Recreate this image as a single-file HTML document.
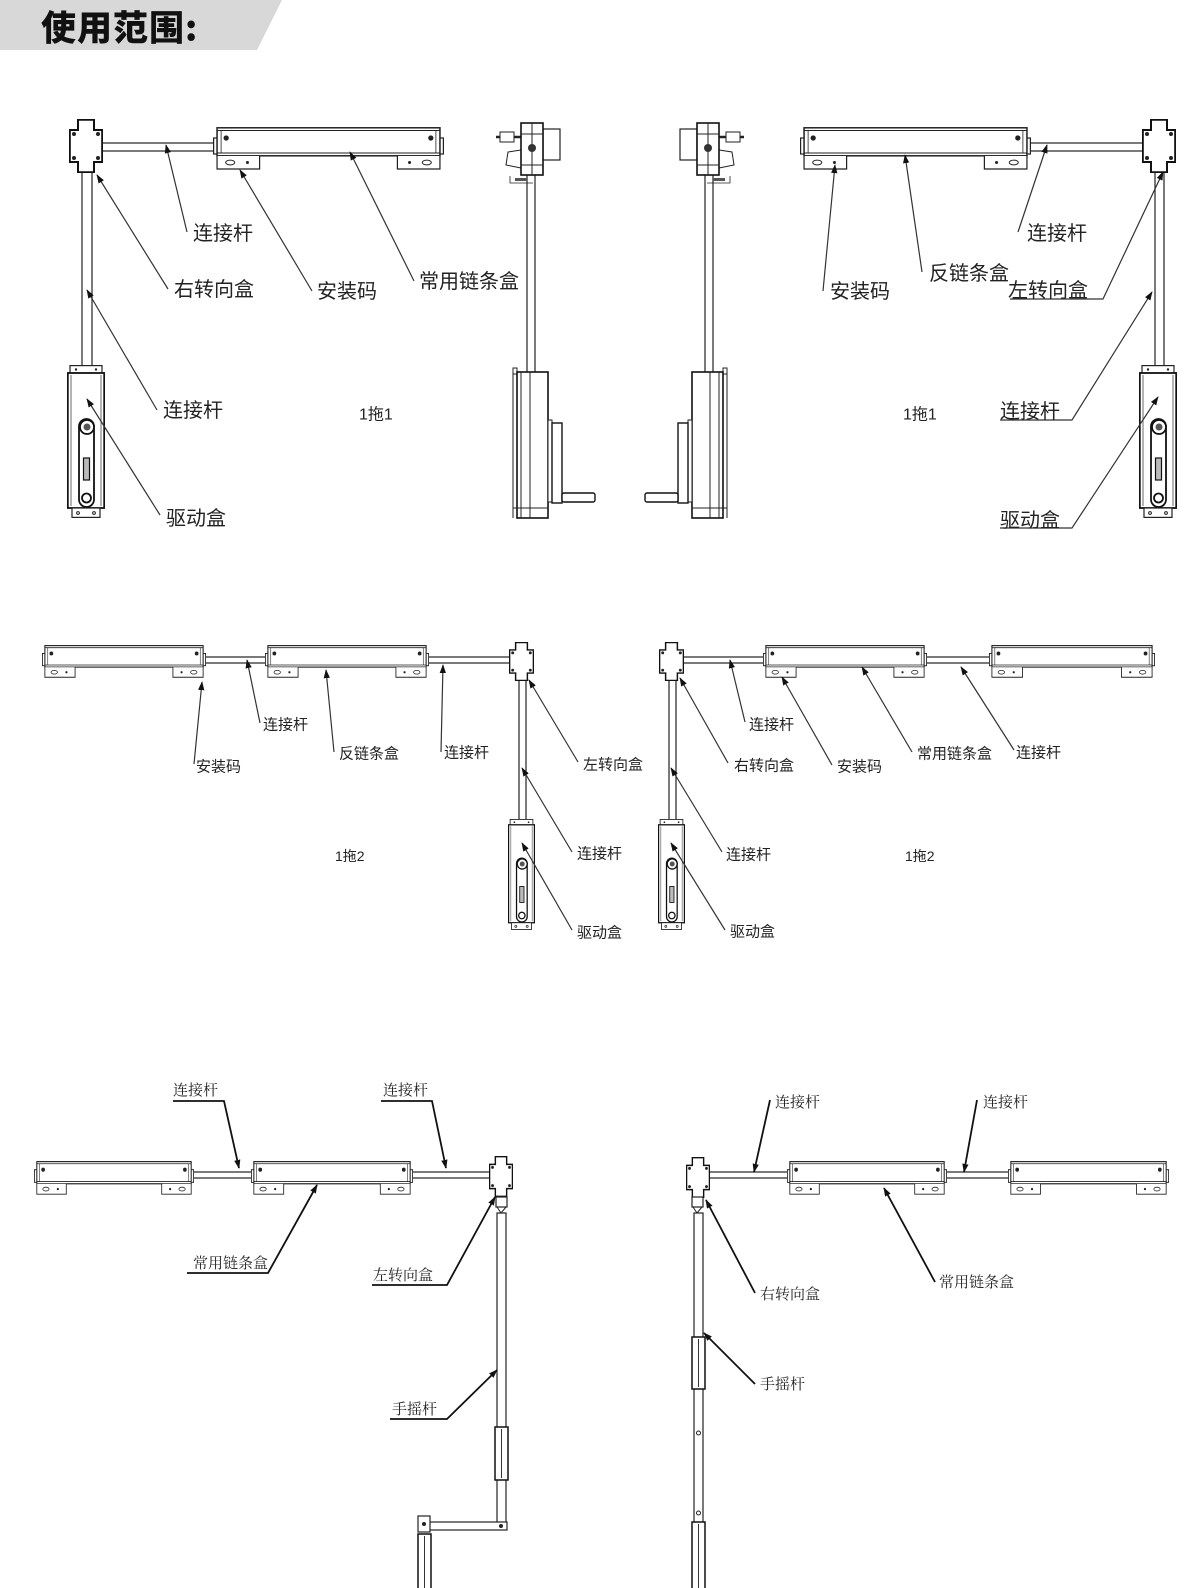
<!DOCTYPE html>
<html><head><meta charset="utf-8"><style>
html,body{margin:0;padding:0;background:#fff;}
svg{display:block;}
.t{font-family:"Liberation Sans","Noto Sans CJK SC",sans-serif;fill:#222;dominant-baseline:central;}
.s{font-family:"Liberation Serif","Noto Serif CJK SC",serif;fill:#222;dominant-baseline:central;}
.ld{stroke:#333;stroke-width:1.2;fill:none;}
.lb{stroke:#111;stroke-width:1.8;fill:none;}
.p{stroke:#222;stroke-width:1.2;fill:#fff;}
</style></head><body>
<svg width="1200" height="1588" viewBox="0 0 1200 1588" xmlns="http://www.w3.org/2000/svg">
<defs>
<marker id="ar" viewBox="0 0 10 10" refX="9" refY="5" markerWidth="9" markerHeight="9" orient="auto-start-reverse" markerUnits="userSpaceOnUse"><path d="M0,1.5 L10,5 L0,8.5 Z" fill="#111"/></marker>
<symbol id="cb" viewBox="0 0 228 43" preserveAspectRatio="none">
 <rect x="0.6" y="11" width="4" height="16" fill="#fff" stroke="#222" stroke-width="1.2"/>
 <rect x="223.4" y="11" width="4" height="16" fill="#fff" stroke="#222" stroke-width="1.2"/>
 <rect x="4" y="0.8" width="220" height="28" fill="#fff" stroke="#222" stroke-width="1.5"/>
 <line x1="4" y1="3.5" x2="224" y2="3.5" stroke="#222" stroke-width="1"/>
 <line x1="4" y1="26" x2="224" y2="26" stroke="#222" stroke-width="1"/>
 <line x1="8" y1="3.5" x2="8" y2="26" stroke="#222" stroke-width="0.8"/>
 <line x1="220" y1="3.5" x2="220" y2="26" stroke="#222" stroke-width="0.8"/>
 <circle cx="13" cy="11" r="2.6" fill="#222"/><circle cx="215" cy="11" r="2.6" fill="#222"/>
 <path d="M4,29 V42 H46 V29" fill="#fff" stroke="#222" stroke-width="1.2"/>
 <path d="M182,29 V42 H224 V29" fill="#fff" stroke="#222" stroke-width="1.2"/>
 <ellipse cx="17" cy="35.5" rx="4.5" ry="2.4" fill="none" stroke="#222" stroke-width="1"/>
 <circle cx="34" cy="35.5" r="1.5" fill="#222"/>
 <ellipse cx="211" cy="35.5" rx="4.5" ry="2.4" fill="none" stroke="#222" stroke-width="1"/>
 <circle cx="194" cy="35.5" r="1.5" fill="#222"/>
</symbol>
<symbol id="cr" viewBox="0 0 34 54" preserveAspectRatio="none">
 <path d="M9,0.8 H25 V11 H33.2 V43 H25 V53.2 H9 V43 H0.8 V11 H9 Z" fill="#fff" stroke="#111" stroke-width="2"/>
 <circle cx="5" cy="15" r="2" fill="#222"/><circle cx="29" cy="15" r="2" fill="#222"/>
 <circle cx="5" cy="39" r="2" fill="#222"/><circle cx="29" cy="39" r="2" fill="#222"/>
</symbol>
<symbol id="db" viewBox="0 0 38 153" preserveAspectRatio="none">
 <rect x="3" y="0.6" width="32" height="8" fill="#fff" stroke="#222" stroke-width="1.2"/>
 <circle cx="9" cy="4.5" r="1.2" fill="#222"/><circle cx="29" cy="4.5" r="1.2" fill="#222"/>
 <rect x="0.8" y="8" width="36.4" height="135" fill="#fff" stroke="#111" stroke-width="1.8"/>
 <line x1="4" y1="10" x2="4" y2="141" stroke="#444" stroke-width="0.8"/>
 <line x1="34" y1="10" x2="34" y2="141" stroke="#444" stroke-width="0.8"/>
 <rect x="5" y="143" width="28" height="9.4" fill="#fff" stroke="#222" stroke-width="1.2"/>
 <circle cx="11" cy="148" r="1.4" fill="none" stroke="#222"/><circle cx="27" cy="148" r="1.4" fill="none" stroke="#222"/>
 <rect x="12" y="54" width="15" height="88" rx="7.5" fill="#fff" stroke="#111" stroke-width="1.8"/>
 <circle cx="20" cy="62" r="7" fill="#fff" stroke="#111" stroke-width="1.8"/>
 <circle cx="20" cy="62" r="3.5" fill="#555"/>
 <rect x="16.5" y="93" width="6" height="22" fill="#bbb" stroke="#111" stroke-width="1.2"/>
 <circle cx="19.5" cy="133" r="4.5" fill="#fff" stroke="#111" stroke-width="1.8"/>
</symbol>
<g id="side">
 <rect x="527" y="173" width="8" height="200" class="p"/>
 <line x1="496" y1="137" x2="521" y2="137" stroke="#222" stroke-width="2.5"/>
 <rect x="500" y="132" width="14" height="10" fill="#fff" stroke="#222"/>
 <path d="M521,150 L508,152 L506,165 L521,168" fill="#fff" stroke="#222"/>
 <rect x="543" y="129" width="17" height="31" fill="#fff" stroke="#222" stroke-width="1.2"/>
 <rect x="521" y="123" width="22" height="52" fill="#fff" stroke="#111" stroke-width="1.6"/>
 <line x1="521" y1="134" x2="543" y2="134" stroke="#222"/><line x1="521" y1="165" x2="543" y2="165" stroke="#222"/>
 <line x1="532" y1="123" x2="532" y2="175" stroke="#222"/>
 <circle cx="532" cy="148" r="4" fill="#333"/>
 <path d="M510,176 V183 H533" fill="none" stroke="#222" stroke-width="0.8"/>
 <rect x="515" y="178" width="12" height="3" fill="#555"/>
 <rect x="513" y="368" width="4" height="6" fill="#fff" stroke="#222"/>
 <rect x="517" y="372" width="31" height="146" fill="#fff" stroke="#111" stroke-width="1.6"/>
 <line x1="521" y1="372" x2="521" y2="518" stroke="#222"/>
 <line x1="530" y1="372" x2="530" y2="518" stroke="#222"/>
 <line x1="513" y1="372" x2="513" y2="518" stroke="#222"/>
 <line x1="513" y1="508" x2="548" y2="508" stroke="#222"/>
 <rect x="548" y="420" width="4" height="82" fill="#fff" stroke="#222"/>
 <rect x="552" y="423" width="10" height="80" fill="#fff" stroke="#111" stroke-width="1.4"/>
 <rect x="562" y="493" width="33" height="9" rx="2" fill="#fff" stroke="#111" stroke-width="1.4"/>
</g>
</defs>

<!-- header -->
<polygon points="0,0 282,0 257,50 0,50" fill="#d8d8d8"/>
<text x="41" y="26" style="font-family:'Noto Sans CJK SC','WenQuanYi Zen Hei',sans-serif;font-weight:900;font-size:35px;fill:#111;dominant-baseline:central;letter-spacing:1px">使用范围:</text>

<!-- ===== TOP LEFT ===== -->
<rect x="102" y="143" width="114" height="8" class="p"/>
<rect x="82" y="170" width="10" height="198" class="p"/>
<use href="#cb" x="213" y="127" width="231" height="43"/>
<use href="#cr" x="69" y="119" width="34" height="54"/>
<use href="#db" x="67" y="365" width="38" height="153"/>
<g class="ld" marker-end="url(#ar)">
<path d="M187,232 L166,145"/>
<path d="M168,289 L97,175"/>
<path d="M312,291 L240,170"/>
<path d="M414,281 L350,152"/>
<path d="M157,410 L87,290"/>
<path d="M160,515 L87,399"/>
</g>
<g class="t" font-size="20">
<text x="193" y="234">连接杆</text>
<text x="174" y="290">右转向盒</text>
<text x="317" y="292">安装码</text>
<text x="419" y="282">常用链条盒</text>
<text x="163" y="411">连接杆</text>
<text x="166" y="519">驱动盒</text>
</g>
<text class="t" x="359" y="415" font-size="16">1拖1</text>

<!-- side views -->
<use href="#side"/>
<use href="#side" transform="translate(1240,0) scale(-1,1)"/>

<!-- ===== TOP RIGHT ===== -->
<rect x="1026" y="143" width="117" height="8" class="p"/>
<rect x="1155" y="170" width="9" height="198" class="p"/>
<use href="#cb" x="800" y="127" width="231" height="43"/>
<use href="#cr" x="1142" y="119" width="34" height="54"/>
<use href="#db" x="1139" y="365" width="38" height="153"/>
<g class="ld" marker-end="url(#ar)">
<path d="M823,291 L835,165"/>
<path d="M922,272 L905,155"/>
<path d="M1018,232 L1047,145"/>
<path d="M1010,299 H1103 L1163,172"/>
<path d="M1000,420 H1072 L1152,292"/>
<path d="M1000,528 H1072 L1158,397"/>
</g>
<g class="t" font-size="20">
<text x="830" y="292">安装码</text>
<text x="929" y="274">反链条盒</text>
<text x="1027" y="234">连接杆</text>
<text x="1008" y="291">左转向盒</text>
<text x="1000" y="412">连接杆</text>
<text x="1000" y="521">驱动盒</text>
</g>
<text class="t" x="903" y="415" font-size="16">1拖1</text>

<!-- ===== MIDDLE LEFT ===== -->
<rect x="200" y="657" width="68" height="6" class="p"/>
<rect x="427" y="657" width="84" height="6" class="p"/>
<rect x="519" y="679" width="7" height="142" class="p"/>
<use href="#cb" x="42" y="645" width="164" height="33"/>
<use href="#cb" x="265" y="645" width="164" height="33"/>
<use href="#cr" x="509" y="642" width="25" height="39"/>
<use href="#db" x="508" y="819" width="27" height="111"/>
<g class="ld" marker-end="url(#ar)">
<path d="M194,764 L202,682"/>
<path d="M260,723 L247,660"/>
<path d="M334,752 L326,670"/>
<path d="M441,752 L443,665"/>
<path d="M578,762 L529,680"/>
<path d="M572,852 L522,768"/>
<path d="M572,930 L522,843"/>
</g>
<g class="t" font-size="15">
<text x="263" y="725">连接杆</text>
<text x="196" y="767">安装码</text>
<text x="339" y="754">反链条盒</text>
<text x="444" y="753">连接杆</text>
<text x="583" y="765">左转向盒</text>
<text x="577" y="854">连接杆</text>
<text x="577" y="933">驱动盒</text>
</g>
<text class="t" x="335" y="856" font-size="14">1拖2</text>

<!-- ===== MIDDLE RIGHT ===== -->
<rect x="683" y="657" width="84" height="6" class="p"/>
<rect x="924" y="657" width="69" height="6" class="p"/>
<rect x="669" y="679" width="7" height="142" class="p"/>
<use href="#cb" x="763" y="645" width="164" height="33"/>
<use href="#cb" x="989" y="645" width="166" height="33"/>
<use href="#cr" x="659" y="642" width="25" height="39"/>
<use href="#db" x="658" y="819" width="27" height="111"/>
<g class="ld" marker-end="url(#ar)">
<path d="M745,722 L730,660"/>
<path d="M728,763 L680,678"/>
<path d="M832,765 L782,677"/>
<path d="M912,752 L862,667"/>
<path d="M1014,750 L961,667"/>
<path d="M722,852 L671,768"/>
<path d="M725,930 L671,843"/>
</g>
<g class="t" font-size="15">
<text x="749" y="725">连接杆</text>
<text x="734" y="766">右转向盒</text>
<text x="837" y="767">安装码</text>
<text x="917" y="754">常用链条盒</text>
<text x="1016" y="753">连接杆</text>
<text x="726" y="855">连接杆</text>
<text x="730" y="932">驱动盒</text>
</g>
<text class="t" x="905" y="856" font-size="14">1拖2</text>

<!-- ===== BOTTOM LEFT ===== -->
<rect x="191" y="1172" width="64" height="6" class="p"/>
<rect x="410" y="1172" width="80" height="6" class="p"/>
<use href="#cb" x="34" y="1161" width="160" height="34"/>
<use href="#cb" x="251" y="1161" width="162" height="34"/>
<use href="#cr" x="489" y="1156" width="24" height="41"/>
<rect x="496" y="1197" width="11" height="10" class="p"/>
<path d="M497,1207 L501,1213 L506,1207" fill="none" stroke="#222"/>
<rect x="497" y="1213" width="9" height="312" class="p"/>
<rect x="495" y="1427" width="13" height="53" fill="#fff" stroke="#111" stroke-width="1.5"/>
<line x1="501.5" y1="1429" x2="501.5" y2="1478" stroke="#333"/>
<rect x="420" y="1522" width="87" height="8" class="p"/>
<rect x="418" y="1516" width="12" height="16" class="p"/>
<circle cx="424" cy="1524" r="2" fill="#222"/><circle cx="501" cy="1526" r="2" fill="#222"/>
<rect x="418" y="1534" width="13" height="56" fill="#fff" stroke="#111" stroke-width="1.5"/>
<line x1="424.5" y1="1536" x2="424.5" y2="1588" stroke="#333"/>
<g class="lb" marker-end="url(#ar)">
<path d="M173,1101 H224 L239,1168"/>
<path d="M381,1101 H432 L446,1168"/>
<path d="M187,1273 H268 L317,1185"/>
<path d="M372,1285 H447 L495,1197"/>
<path d="M390,1419 H447 L497,1370"/>
</g>
<g class="s" font-size="15">
<text x="173" y="1091">连接杆</text>
<text x="383" y="1091">连接杆</text>
<text x="193" y="1264">常用链条盒</text>
<text x="373" y="1276">左转向盒</text>
<text x="392" y="1410">手摇杆</text>
</g>

<!-- ===== BOTTOM RIGHT ===== -->
<rect x="709" y="1172" width="80" height="6" class="p"/>
<rect x="944" y="1172" width="66" height="6" class="p"/>
<use href="#cb" x="787" y="1161" width="160" height="34"/>
<use href="#cb" x="1008" y="1161" width="161" height="34"/>
<use href="#cr" x="686" y="1157" width="24" height="41"/>
<rect x="692" y="1197" width="11" height="10" class="p"/>
<path d="M693,1207 L697,1213 L702,1207" fill="none" stroke="#222"/>
<rect x="694" y="1213" width="9" height="380" class="p"/>
<rect x="692" y="1337" width="13" height="52" fill="#fff" stroke="#111" stroke-width="1.5"/>
<line x1="698.5" y1="1339" x2="698.5" y2="1387" stroke="#333"/>
<circle cx="698.5" cy="1433" r="2" fill="none" stroke="#222"/>
<circle cx="698.5" cy="1513" r="2" fill="none" stroke="#222"/>
<rect x="692" y="1522" width="13" height="70" fill="#fff" stroke="#111" stroke-width="1.5"/>
<line x1="698.5" y1="1524" x2="698.5" y2="1588" stroke="#333"/>
<g class="lb" marker-end="url(#ar)">
<path d="M770,1100 L754,1172"/>
<path d="M977,1100 L964,1172"/>
<path d="M755,1293 L706,1200"/>
<path d="M935,1282 L884,1188"/>
<path d="M755,1384 L704,1333"/>
</g>
<g class="s" font-size="15">
<text x="775" y="1103">连接杆</text>
<text x="983" y="1103">连接杆</text>
<text x="760" y="1295">右转向盒</text>
<text x="939" y="1283">常用链条盒</text>
<text x="760" y="1385">手摇杆</text>
</g>
</svg>
</body></html>
